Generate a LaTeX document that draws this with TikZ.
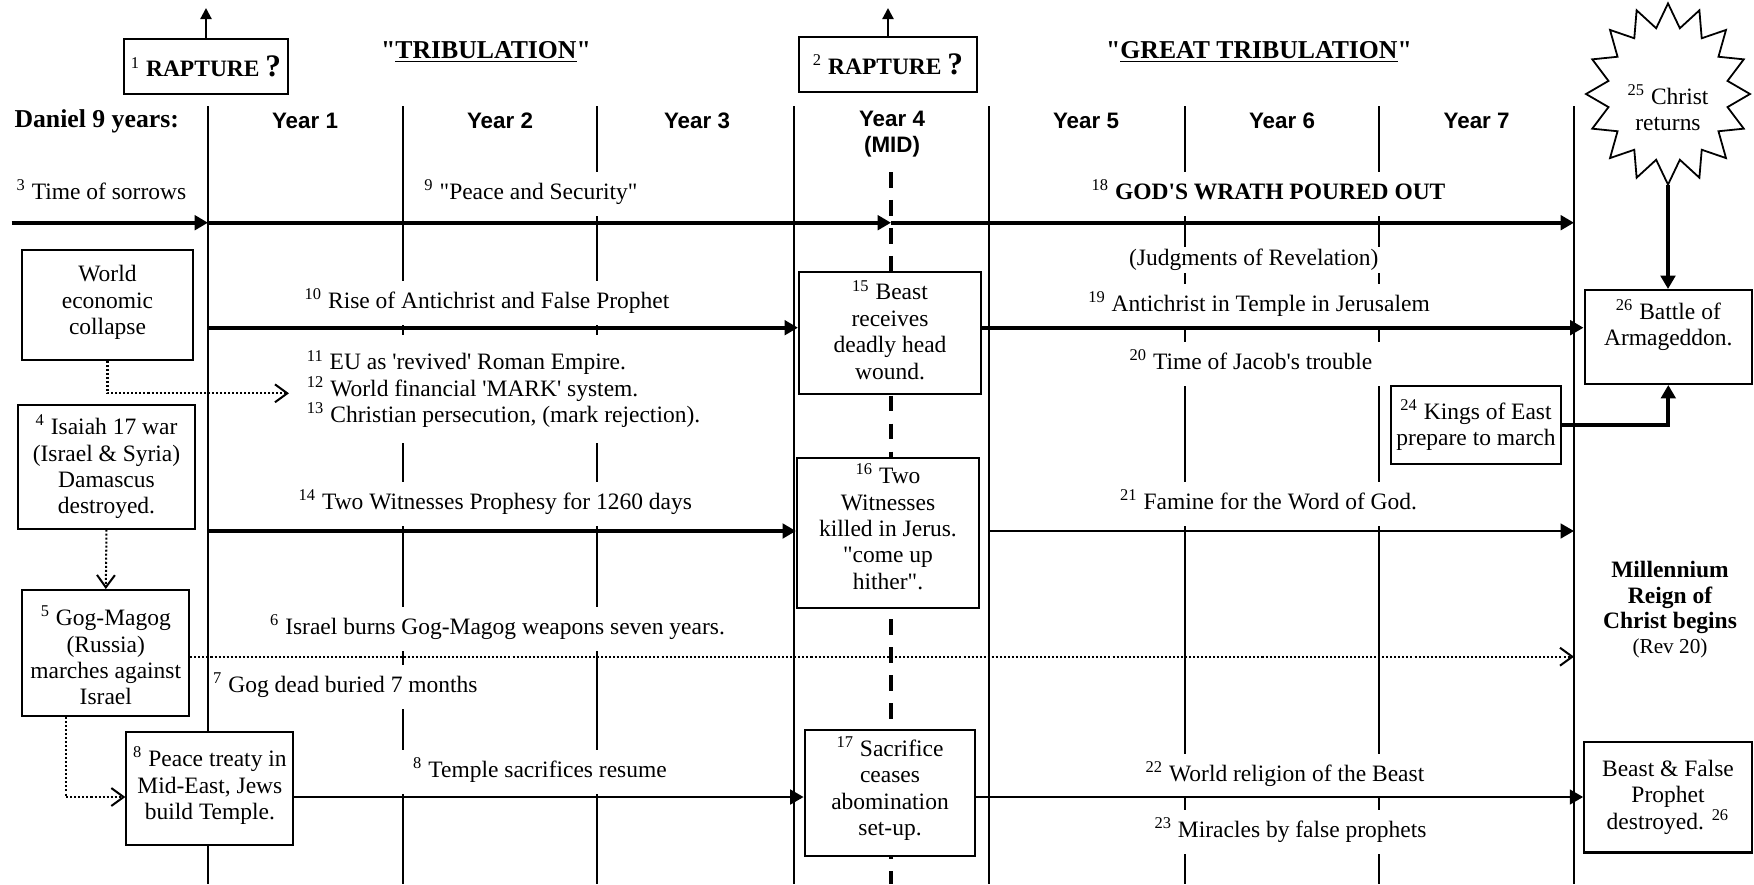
\documentclass[tikz,border=0pt]{standalone}
\usepackage{fontspec}
\setmainfont{Liberation Serif}
\newfontfamily\arialfont{Liberation Sans}
\usetikzlibrary{arrows.meta,shapes.geometric}

\newcommand{\nr}[1]{\textsuperscript{#1}}
\newcommand{\sq}{\textquotesingle}
\newcommand{\dq}{\textquotedbl}

\tikzset{
  yearline/.style={line width=0.9pt},
  midline/.style={line width=2pt, dash pattern=on 7pt off 5.5pt},
  flow/.style={line width=1.8pt, -{Triangle[length=6pt,width=6.5pt]}},
  thinflow/.style={line width=1.3pt, -{Triangle[length=6pt,width=6.5pt]}},
  hint/.style={line width=0.9pt, dash pattern=on 0.9pt off 0.9pt, -{Straight Barb[length=5.5pt,width=8pt]}},
  rapt/.style={line width=1pt, -{Triangle[length=5pt,width=5pt]}},
  evbox/.style={draw, line width=0.9pt, fill=white, align=center, inner sep=1pt},
  lbl/.style={fill=white, inner xsep=5pt, minimum height=20pt, text height=7.5pt, text depth=2.5pt},
  yr/.style={font=\arialfont\bfseries\fontsize{10}{11.6}\selectfont},
  ttl/.style={font=\bfseries\fontsize{11.5}{13}\selectfont},
}

\begin{document}
\begin{tikzpicture}[x=0.447pt, y=-0.447pt, font=\fontsize{10.5}{11.8}\selectfont]
\useasboundingbox (0,0) rectangle (1754,884);

% time grid
\foreach \x [count=\i from 0] in {208,403,597,793.5,988.7,1185,1379,1574}
  \coordinate (d\i) at (\x,106);
\coordinate (bottom) at (0,884);
\coordinate (mid) at (891,172);
\foreach \i in {1,2,5,6}
  \draw[yearline] (d\i) -- (d\i |- bottom);

% headings
\node[ttl] (trib) at (486,52) {\dq\underline{TRIBULATION}\dq};
\node[ttl] (greattrib) at (1259,52) {\dq\underline{GREAT TRIBULATION}\dq};
\node[ttl] (daniel) at (96.7,121) {Daniel 9 years:};
\foreach \n/\x in {1/305,2/500,3/697,5/1086,6/1282,7/1476.6}
  \node[yr] (year\n) at (\x,121) {Year \n};
\node[yr, align=center] (year4) at (892,134) {Year 4\\(MID)};

\node[evbox, minimum width=73.3pt, minimum height=24.6pt] (rapture1) at (206,66.8)
  {\nr{1} \textbf{RAPTURE} {\bfseries\fontsize{14}{14}\selectfont ?}};
\node[evbox, minimum width=79.6pt, minimum height=24.6pt] (rapture2) at (888,64.2)
  {\nr{2} \textbf{RAPTURE} {\bfseries\fontsize{14}{14}\selectfont ?}};

% row labels
\node[lbl] (sorrows) at (101.4,194) {\nr{3} Time of sorrows};
\node[lbl] (peacesec) at (531,194) {\nr{9} \dq Peace and Security\dq};
\node[lbl] (wrath) at (1268.5,194) {\nr{18} \textbf{GOD\sq S WRATH POURED OUT}};
\node[lbl, minimum height=0pt, inner ysep=1pt] (judgments) at (1253.7,260) {(Judgments of Revelation)};
\node[lbl] (rise) at (487,303) {\nr{10} Rise of Antichrist and False Prophet};
\node[lbl] (temple) at (1259,306) {\nr{19} Antichrist in Temple in Jerusalem};
\node[fill=white, anchor=west, align=left, inner xsep=2pt, inner ysep=7pt] (eu) at (302,389)
  {\nr{11} EU as \sq revived\sq{} Roman Empire.\\
   \nr{12} World financial \sq MARK\sq{} system.\\
   \nr{13} Christian persecution, (mark rejection).};
\node[lbl] (jacob) at (1251,364) {\nr{20} Time of Jacob\sq s trouble};
\node[lbl] (witness) at (495.3,504) {\nr{14} Two Witnesses Prophesy for 1260 days};
\node[lbl] (famine) at (1268.6,504) {\nr{21} Famine for the Word of God.};
\node[lbl] (burns) at (497.5,629) {\nr{6} Israel burns Gog-Magog weapons seven years.};
\node[lbl] (gogdead) at (345.4,687) {\nr{7} Gog dead buried 7 months};
\node[lbl, inner xsep=8pt] (sacrifices) at (540,772) {\nr{8} Temple sacrifices resume};
\node[lbl] (religion) at (1285,776) {\nr{22} World religion of the Beast};
\node[lbl] (miracles) at (1290.5,832) {\nr{23} Miracles by false prophets};

\foreach \i in {0,3,4,7}
  \draw[yearline] (d\i) -- (d\i |- bottom);
\draw[midline] (mid) -- (mid |- bottom);

% events
\node[evbox, minimum width=76pt, minimum height=49pt, text depth=4.6pt] (collapse) at (107.5,305) {World\\economic\\collapse};
\node[evbox, minimum width=79.5pt, minimum height=55pt] (isaiah) at (106.5,467)
  {\nr{4} Isaiah 17 war\\(Israel \& Syria)\\Damascus\\destroyed.};
\node[evbox, minimum width=74.7pt, minimum height=56.3pt] (gog) at (105.8,653)
  {\rule{0pt}{11pt}\nr{5} Gog-Magog\\(Russia)\\marches against\\Israel};
\node[evbox, minimum width=74.7pt, minimum height=50.6pt, text depth=4.6pt] (treaty) at (209.9,788.4)
  {\nr{8} Peace treaty in\\Mid-East, Jews\\build Temple.};
\node[evbox, minimum width=81.4pt, minimum height=54.8pt, text depth=3pt] (beast) at (890,333)
  {\nr{15} Beast\\receives\\deadly head\\wound.};
\node[evbox, minimum width=81.4pt, minimum height=67pt, text depth=6pt] (witnesses) at (888,533.3)
  {\nr{16} Two\\Witnesses\\killed in Jerus.\\\dq come up\\hither\dq.};
\node[evbox, minimum width=76.3pt, minimum height=56.3pt, text depth=6pt] (sacrifice) at (890,793)
  {\nr{17} Sacrifice\\ceases\\abomination\\set-up.};
\node[evbox, minimum width=74.9pt, minimum height=42pt, text depth=13pt] (battle) at (1668.3,337)
  {\nr{26} Battle of\\Armageddon.};
\node[evbox, minimum width=76.3pt, minimum height=35pt] (kings) at (1476,425)
  {\nr{24} Kings of East\\prepare to march};
\node[evbox, minimum width=74.9pt, minimum height=49.6pt] (bfp) at (1668,797)
  {Beast \& False\\Prophet\\destroyed. \nr{26}};
\node[align=center, font=\bfseries\fontsize{10.5}{11.3}\selectfont] (millennium) at (1670,610)
  {Millennium\\Reign of\\Christ begins\\{\mdseries\fontsize{9.5}{10.5}\selectfont (Rev 20)}};

% star
\draw[line width=0.8pt, fill=white] (1668,3.4)
  \foreach \k [evaluate=\k as \r using {mod(\k,2)==0 ? 1 : 0.74}] in {1,...,31}
  { -- ({1668+82*\r*sin(\k*11.25)},{94-90.6*\r*cos(\k*11.25)}) } -- cycle;
\node[align=center] (christ) at (1668,108) {\nr{25} Christ\\returns};
\coordinate (christtip) at (1668,184.6);

% arrows
\coordinate (sky) at (0,8);
\draw[rapt] (rapture1.north) -- (rapture1.north |- sky);
\draw[rapt] (rapture2.north) -- (rapture2.north |- sky);

\coordinate (ya) at (11.5,222.7);
\draw[flow] (ya) -- (ya -| d0);
\draw[flow] (ya -| d0) -- (ya -| mid);
\draw[flow] (ya -| mid) -- (ya -| d7);

\coordinate (yb) at (0,327.7);
\draw[flow] (yb -| d0) -- (yb -| beast.west);
\draw[flow] (yb -| beast.east) -- (yb -| battle.west);

\coordinate (yc) at (0,531);
\draw[flow] (yc -| d0) -- (yc -| witnesses.west);
\draw[thinflow] (yc -| d4) -- (yc -| d7);

\coordinate (yd) at (0,656.7);
\draw[hint] (yd -| gog.east) -- (yd -| d7);

\coordinate (ye) at (0,797);
\draw[thinflow] (ye -| treaty.east) -- (ye -| sacrifice.west);
\draw[thinflow] (ye -| sacrifice.east) -- (ye -| bfp.west);

\coordinate (eutip) at (289,393.3);
\draw[hint] (collapse.south) |- (eutip);
\draw[hint] (isaiah.south) -- (gog.north);
\draw[hint] (gog.238) |- (ye -| treaty.west);

\draw[flow, line width=1.9pt] (christtip) -- (christtip |- battle.north);
\draw[flow, line width=1.9pt] (kings.east) -| (battle.south);

\end{tikzpicture}
\end{document}
